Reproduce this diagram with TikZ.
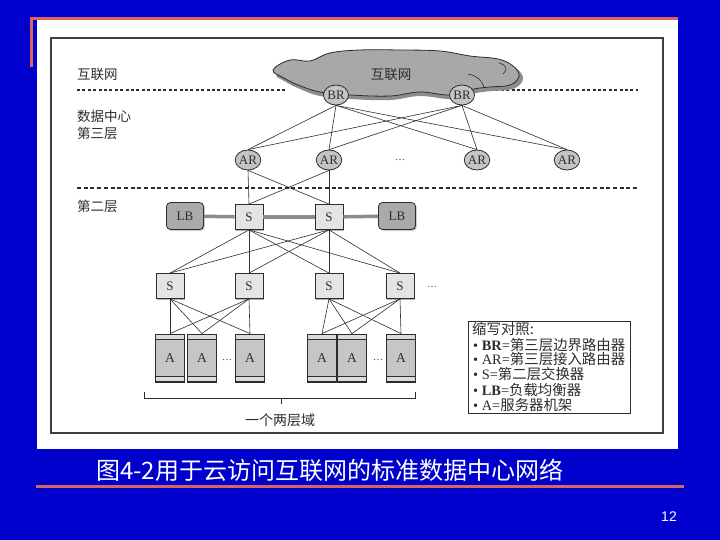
\documentclass[tikz,border=0pt]{standalone}
\usepackage{fontspec}
\setmainfont{Liberation Serif}
\newfontfamily\cjk{Noto Sans CJK SC}
\newfontfamily\sansf{Liberation Sans}
\usetikzlibrary{shapes.geometric,shadows}
\definecolor{slideblue}{RGB}{0,0,204}
\definecolor{salmon}{RGB}{214,100,96}
\definecolor{ink}{RGB}{45,45,45}
\definecolor{cloudgray}{RGB}{168,168,168}
\definecolor{cloudshadow}{RGB}{140,140,140}
\definecolor{trunkgray}{RGB}{140,140,140}
\definecolor{lbgray}{RGB}{170,170,170}
\definecolor{swgray}{RGB}{228,228,228}
\definecolor{routergray}{RGB}{196,196,196}
\begin{document}
\begin{tikzpicture}[x=1pt,y=-1pt,
  link/.style={draw=ink,line width=0.6pt},
  trunk/.style={draw=trunkgray,line width=3.5pt},
  router/.style={ellipse,draw=ink,line width=0.8pt,fill=routergray,minimum width=25pt,minimum height=20pt,inner sep=0pt,text=ink,font=\fontsize{13}{13}\selectfont},
  swbox/.style={rectangle,draw=ink,line width=0.8pt,fill=swgray,minimum width=28pt,minimum height=25pt,inner sep=0pt,text=ink,font=\fontsize{13}{13}\selectfont,drop shadow={shadow xshift=1.2pt,shadow yshift=-1.2pt,fill=black!50,opacity=0.6}},
  lbbox/.style={rectangle,rounded corners=4pt,draw=ink,line width=0.8pt,fill=lbgray,minimum width=37pt,minimum height=27pt,inner sep=0pt,text=ink,font=\fontsize{13}{13}\selectfont,drop shadow={shadow xshift=1.2pt,shadow yshift=-1.2pt,fill=black!50,opacity=0.6}},
  rack/.style={rectangle,draw=ink,line width=0.8pt,fill=gray!45,minimum width=29pt,minimum height=48pt,inner sep=0pt,text=ink,font=\fontsize{13.5}{13.5}\selectfont,
    path picture={
      \fill[gray!28] (path picture bounding box.north west) rectangle ([yshift=-5pt]path picture bounding box.north east);
      \draw[ink,line width=0.6pt] ([yshift=-5pt]path picture bounding box.north west) -- ([yshift=-5pt]path picture bounding box.north east);
      \fill[gray!28] (path picture bounding box.south west) rectangle ([yshift=6pt]path picture bounding box.south east);
      \draw[ink,line width=0.6pt] ([yshift=6pt]path picture bounding box.south west) -- ([yshift=6pt]path picture bounding box.south east);
      \draw[ink,line width=1.6pt] (path picture bounding box.south west) -- (path picture bounding box.south east);
    }},
  dotsnode/.style={inner sep=0pt,text=ink,font=\fontsize{10}{10}\selectfont},
  lbl/.style={anchor=west,inner sep=0pt,text=ink,font=\cjk\fontsize{13.5}{14}\selectfont},
  legend/.style={anchor=west,inner sep=0pt,text=ink,font=\fontsize{14.4}{15}\selectfont}
]
\useasboundingbox (0,0) rectangle (720,540);
% slide background
\fill[slideblue] (0,0) rectangle (720,540);
\fill[white] (37,20) rectangle (678,449);
\fill[salmon] (30,17) rectangle (678,20);
\fill[salmon] (30,17) rectangle (33,67);
\fill[salmon] (36,484.5) rectangle (684,487.5);
% frame
\draw[line width=2pt,black!75] (51,38) rectangle (663,433);

% layer separators
\draw[ink,line width=2.2pt,dash pattern=on 3pt off 2.4pt] (77,90) -- (286,90);
\draw[ink,line width=2.2pt,dash pattern=on 3pt off 2.4pt] (490,90) -- (638,90);
\draw[ink,line width=1.3pt,dash pattern=on 4pt off 2.7pt] (77,188) -- (638,188);

% left labels
\node[lbl] (lnet) at (77,75) {互联网};
\node[lbl] (ldc) at (77,116) {数据中心};
\node[lbl] (l3) at (77,133) {第三层};
\node[lbl] (l2) at (77,206) {第二层};

% cloud
\fill[cloudshadow] plot[smooth cycle,tension=0.65] coordinates {(276,74) (292,63) (312,63) (332,55) (362,52) (402,52) (442,53) (472,58) (500,61) (516,68) (523,79) (513,89) (492,91) (476,93) (452,99) (420,96) (390,100) (350,99) (320,96) (300,89) (286,82)};
\draw[ink,line width=0.8pt,fill=cloudgray] plot[smooth cycle,tension=0.65] coordinates {(273,70) (290,60) (310,61) (330,53) (360,50) (400,50) (440,51) (470,56) (498,59) (513,66) (519,76) (510,85) (490,87) (474,89) (450,95) (420,92) (390,96) (350,95) (320,92) (298,85) (284,78)};
\draw[ink,line width=0.6pt] (468,74) .. controls (478,76) and (482,81) .. (484,87);
\draw[ink,line width=0.6pt] (499,63) .. controls (507,65) and (508,70) .. (503,74);
\node[inner sep=0pt,text=ink,font=\cjk\fontsize{13.5}{14}\selectfont] (cloudlbl) at (391,75) {互联网};

% routers
\node[router] (br1) at (336,95) {BR};
\node[router] (br2) at (462,95) {BR};
\node[router] (ar1) at (248,160) {AR};
\node[router] (ar2) at (329,160) {AR};
\node[router] (ar3) at (477,160) {AR};
\node[router] (ar4) at (567,160) {AR};
\node[dotsnode] (ardots) at (400,160) {\ldots};

% layer 2 switches and load balancers
\node[lbbox] (lb1) at (185,216) {LB};
\node[swbox] (s1) at (249,217) {S};
\node[swbox] (s2) at (329,217) {S};
\node[lbbox] (lb2) at (397,216) {LB};

\node[swbox] (t1) at (170,286) {S};
\node[swbox] (t2) at (249,286) {S};
\node[swbox] (t3) at (329,286) {S};
\node[swbox] (t4) at (400,286) {S};
\node[dotsnode] (tdots) at (432,287) {\ldots};

% racks
\node[rack] (r1) at (170,358) {A};
\node[rack] (r2) at (202,358) {A};
\node[rack] (r3) at (250,358) {A};
\node[dotsnode] (rdots1) at (227,360) {\ldots};
\node[rack] (r4) at (322,358) {A};
\node[rack] (r5) at (352,358) {A};
\node[rack] (r6) at (401,358) {A};
\node[dotsnode] (rdots2) at (378,360) {\ldots};

% connectors
\foreach \b in {br1,br2}
  \foreach \a in {ar1,ar2,ar3,ar4}
    \draw[link] (\b.south) -- (\a.north);
\foreach \a in {ar1,ar2}
  \foreach \s in {s1,s2}
    \draw[link] (\a.south) -- (\s.north);
\foreach \s in {s1,s2}
  \foreach \t in {t1,t2,t3,t4}
    \draw[link] (\s.south) -- (\t.north);
\foreach \t in {t1,t2}
  \foreach \r in {r1,r2,r3}
    \draw[link] (\t.south) -- (\r.north);
\foreach \t in {t3,t4}
  \foreach \r in {r4,r5,r6}
    \draw[link] (\t.south) -- (\r.north);
\draw[trunk] (lb1) -- (s1);
\draw[trunk] (s1) -- (s2);
\draw[trunk] (s2) -- (lb2);

% bracket
\draw[ink,line width=0.8pt] (144,392) -- (144,398) -- (415,398) -- (415,392);
\draw[ink,line width=0.8pt] (281,398) -- (281,404);
\node[inner sep=0pt,text=ink,font=\cjk\fontsize{14}{14}\selectfont] (domain) at (280,420) {一个两层域};

% legend
\draw[ink,line width=1pt,fill=white] (468,321) rectangle (630,413);
\node[legend] (lg0) at (472,329) {\cjk 缩写对照:};
\node[legend] (lg1) at (473,345) {• \textbf{BR}={\cjk 第三层边界路由器}};
\node[legend] (lg2) at (473,359.5) {• AR={\cjk 第三层接入路由器}};
\node[legend] (lg3) at (473,374.5) {• S={\cjk 第二层交换器}};
\node[legend] (lg4) at (473,390) {• \textbf{LB}={\cjk 负载均衡器}};
\node[legend] (lg5) at (473,405) {• A={\cjk 服务器机架}};

% caption
\node[anchor=west,inner sep=0pt,text=white,font=\cjk\fontsize{24}{26}\selectfont] (caption) at (96,470) {图4-2用于云访问互联网的标准数据中心网络};
\node[inner sep=0pt,text=white,font=\sansf\fontsize{14}{14}\selectfont] (pagenum) at (669,517) {12};
\end{tikzpicture}
\end{document}
